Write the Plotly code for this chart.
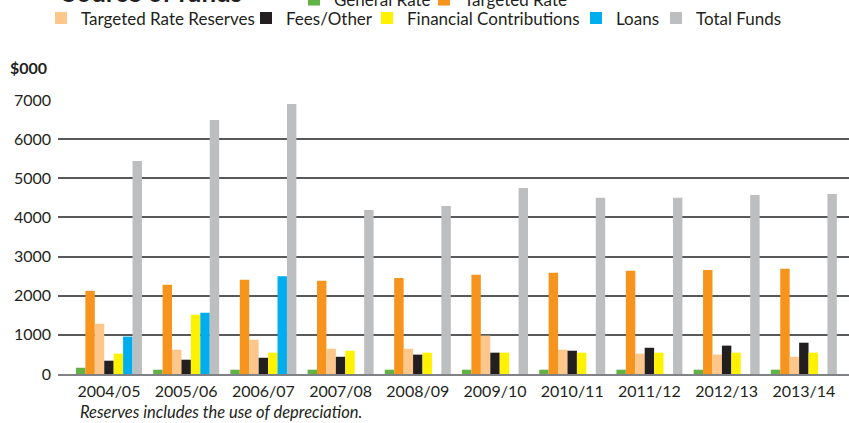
import plotly.graph_objects as go

years = ["2004/05", "2005/06", "2006/07", "2007/08", "2008/09",
         "2009/10", "2010/11", "2011/12", "2012/13", "2013/14"]

general_rate = [160, 110, 110, 110, 110, 110, 110, 110, 110, 110]
targeted_rate = [2125, 2280, 2405, 2380, 2455, 2535, 2585, 2635, 2660, 2690]
targeted_rate_reserves = [1285, 620, 875, 645, 645, 980, 620, 520, 495, 440]
fees_other = [340, 365, 415, 440, 495, 545, 595, 670, 725, 800]
financial_contributions = [520, 1515, 545, 595, 545, 545, 545, 545, 545, 545]
loans = [955, 1565, 2500, None, None, None, None, None, None, None]
total_funds = [5440, 6490, 6900, 4190, 4295, 4755, 4500, 4500, 4575, 4600]

series = [
    ("General Rate", general_rate, "#62b346"),
    ("Targeted Rate", targeted_rate, "#f7941d"),
    ("Targeted Rate Reserves", targeted_rate_reserves, "#fdc68a"),
    ("Fees/Other", fees_other, "#231f20"),
    ("Financial Contributions", financial_contributions, "#fff200"),
    ("Loans", loans, "#00aeef"),
    ("Total Funds", total_funds, "#bcbec0"),
]

# legend swatch left edge (px) and row centre (px from top)
legend_pos = [(308, -5.5), (438, -5.5), (55, 18.5), (260, 18.5),
              (381, 18.5), (590, 18.5), (670, 18.5)]

W, H = 849, 423
L, R, T, B = 58, 0, 100, 49
FONT = "Lato, 'Open Sans', sans-serif"
TXT = "#231f20"

fig = go.Figure()
layout_legends = {}
for i, (name, vals, col) in enumerate(series):
    lg = "legend" if i == 0 else f"legend{i+1}"
    fig.add_trace(go.Bar(name=name, x=years, y=vals, marker_color=col,
                         marker_line_width=0, legend=lg))
    px, py = legend_pos[i]
    layout_legends[lg] = dict(
        xref="container", yref="container",
        x=(px - 14) / W, y=1 - py / H, xanchor="left", yanchor="middle",
        bgcolor="rgba(0,0,0,0)", borderwidth=0,
        font=dict(family=FONT, size=17, color=TXT),
    )

fig.update_layout(
    width=W, height=H,
    margin=dict(l=L, r=R, t=T, b=B, autoexpand=False),
    paper_bgcolor="white", plot_bgcolor="white",
    barmode="group", bargap=0.145, bargroupgap=0,
    showlegend=True,
    font=dict(family=FONT, size=16, color=TXT),
    **layout_legends,
)

fig.update_xaxes(
    type="category", range=[-0.66, 9.585],
    showgrid=False, showline=True, linecolor="#808285", linewidth=2,
    ticks="", tickfont=dict(family=FONT, size=16, color=TXT),
    ticklabelstandoff=2,
)
fig.update_yaxes(
    range=[0, 7000], dtick=1000, tick0=0,
    showgrid=True, gridcolor="#58595b", gridwidth=1.6,
    zeroline=False, showline=False, ticks="",
    tickfont=dict(family=FONT, size=16, color=TXT),
    ticklabelstandoff=6,
)

ph = H - T - B
pw = W - L - R
fig.add_annotation(
    text="<b>Source of funds</b>", xref="paper", yref="paper",
    x=(60 - L) / pw, y=(H - B + 8) / ph, xanchor="left", yanchor="middle",
    showarrow=False, font=dict(family=FONT, size=26, color=TXT),
)
fig.add_annotation(
    text="<b>$000</b>", xref="paper", yref="paper",
    x=(8 - L) / pw, y=(H - B - 67) / ph, xanchor="left", yanchor="middle",
    showarrow=False, font=dict(family=FONT, size=16, color=TXT),
)
fig.add_annotation(
    text="<i>Reserves includes the use of depreciation.</i>", xref="paper", yref="paper",
    x=(78 - L) / pw, y=(H - B - 412) / ph, xanchor="left", yanchor="middle",
    showarrow=False, font=dict(family=FONT, size=16.5, color=TXT),
)

fig.write_html(
    "out.html",
    config={"displayModeBar": False},
    post_script="document.body.style.margin='0';document.body.style.overflow='hidden';",
)
